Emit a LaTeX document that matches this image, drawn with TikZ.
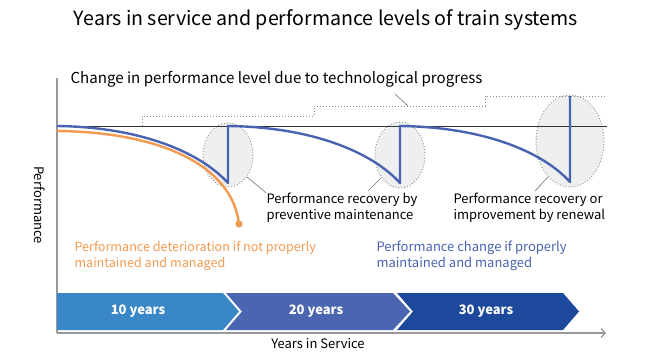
\documentclass[tikz,border=0pt]{standalone}
\usepackage{fontspec}
\setmainfont{Noto Sans CJK JP}
\usetikzlibrary{arrows.meta}
\definecolor{perfblue}{HTML}{4A63B1}
\definecolor{perforange}{HTML}{F39A50}
\definecolor{bandA}{HTML}{3A87C8}
\definecolor{bandB}{HTML}{4A66B0}
\definecolor{bandC}{HTML}{1D499D}
\definecolor{ovalfill}{HTML}{EEEFEF}
\tikzset{
every picture/.style={
line width=1pt
}}

\begin{document}
\begin{tikzpicture}[x=1pt, y=-1pt,
axis/.style = {draw=black!40, line width=1.3pt},
level/.style = {draw=black!80, line width=0.9pt},
progress/.style = {draw=black!45, dotted, line width=1pt},
oval/.style = {fill=ovalfill, draw=black!45, dotted, line width=0.9pt},
leader/.style = {draw=black!55, line width=0.6pt},
perf/.style = {draw=perfblue, line width=2.4pt, line join=round},
decay/.style = {draw=perforange, line width=2.4pt},
label/.style = {anchor=west, align=left, inner sep=0, font=\fontsize{13}{16}\selectfont},
band/.style = {text=white, font=\fontsize{13}{16}\selectfont\bfseries}]
\useasboundingbox (0,0) rectangle (646,364);

% title and axes
\node at (326,20) (title) {\fontsize{19.6}{24}\selectfont Years in service and performance levels of train systems};
\coordinate (o) at (57,333);
\coordinate (ytop) at (57,78);
\coordinate (xend) at (606,333);
\draw [axis] (ytop) -- (o);
\draw [axis, -{Straight Barb[length=4pt, width=9pt]}] (o) -- (xend);
\node [rotate=-90, font=\fontsize{13}{16}\selectfont] at (40,205) (ylab) {Performance};
\node [font=\fontsize{13}{16}\selectfont] at (318,344) (xlab) {Years in Service};

% ovals behind the curves
\draw [oval] (228,155) ellipse [x radius=25, y radius=32];
\draw [oval] (400,155) ellipse [x radius=25, y radius=33];
\draw [oval] (570,141) ellipse [x radius=34, y radius=46];

% initial level and technological progress
\coordinate (l0) at (57,126);
\coordinate (l1) at (607,126);
\draw [level] (l0) -- (l1);
\draw [progress] (142,126) -- (142,116) -- (314,116) -- (314,106) -- (485,106) -- (485,96) -- (607,96);
\node [label, font=\fontsize{15.1}{18}\selectfont] at (70,79) (tech) {Change in performance level due to technological progress};
\coordinate (t1) at (408,106);
\draw [leader] (395,94) -- (t1);

% without maintenance
\coordinate (d0) at (57,131);
\coordinate (d1) at (239,224);
\draw [decay] (d0) .. controls (160,132) and (232,165) .. (d1);
\fill [perforange] (d1) circle [radius=3.6];

% with maintenance
\coordinate (b1) at (228,183);
\coordinate (b2) at (400,183);
\coordinate (b3) at (570,182);
\draw [perf] (l0) .. controls (140,127) and (200,152) .. (b1) -- (228,126)
  .. controls (312,127) and (372,152) .. (b2) -- (400,126)
  .. controls (482,127) and (542,151) .. (b3) -- (570,96);

% callouts
\node [label] at (266,208) (prev) {Performance recovery by\\preventive maintenance};
\node [label] at (453,208) (renew) {Performance recovery or\\improvement by renewal};
\draw [leader] (247,177) -- (prev.north west);
\draw [leader] (381,178) -- (368,191);
\draw [leader] (548,177) -- (535,191);
\node [label, text=perforange, font=\fontsize{12.6}{16}\selectfont] at (74,256) (bad) {Performance deterioration if not properly\\maintained and managed};
\node [label, text=perfblue] at (376,256) (good) {Performance change if properly\\maintained and managed};

% years in service
\fill [bandA] (57,293) -- (223,293) -- (239,311.5) -- (223,330) -- (57,330) -- cycle;
\fill [bandB] (226,293) -- (393,293) -- (410,311.5) -- (393,330) -- (226,330) -- (242,311.5) -- cycle;
\fill [bandC] (397,293) -- (563,293) -- (579,311.5) -- (563,330) -- (397,330) -- (413,311.5) -- cycle;
\node [band] at (138,311.5) (y10) {10 years};
\node [band] at (316,311.5) (y20) {20 years};
\node [band] at (486,311.5) (y30) {30 years};

\end{tikzpicture}
\end{document}
